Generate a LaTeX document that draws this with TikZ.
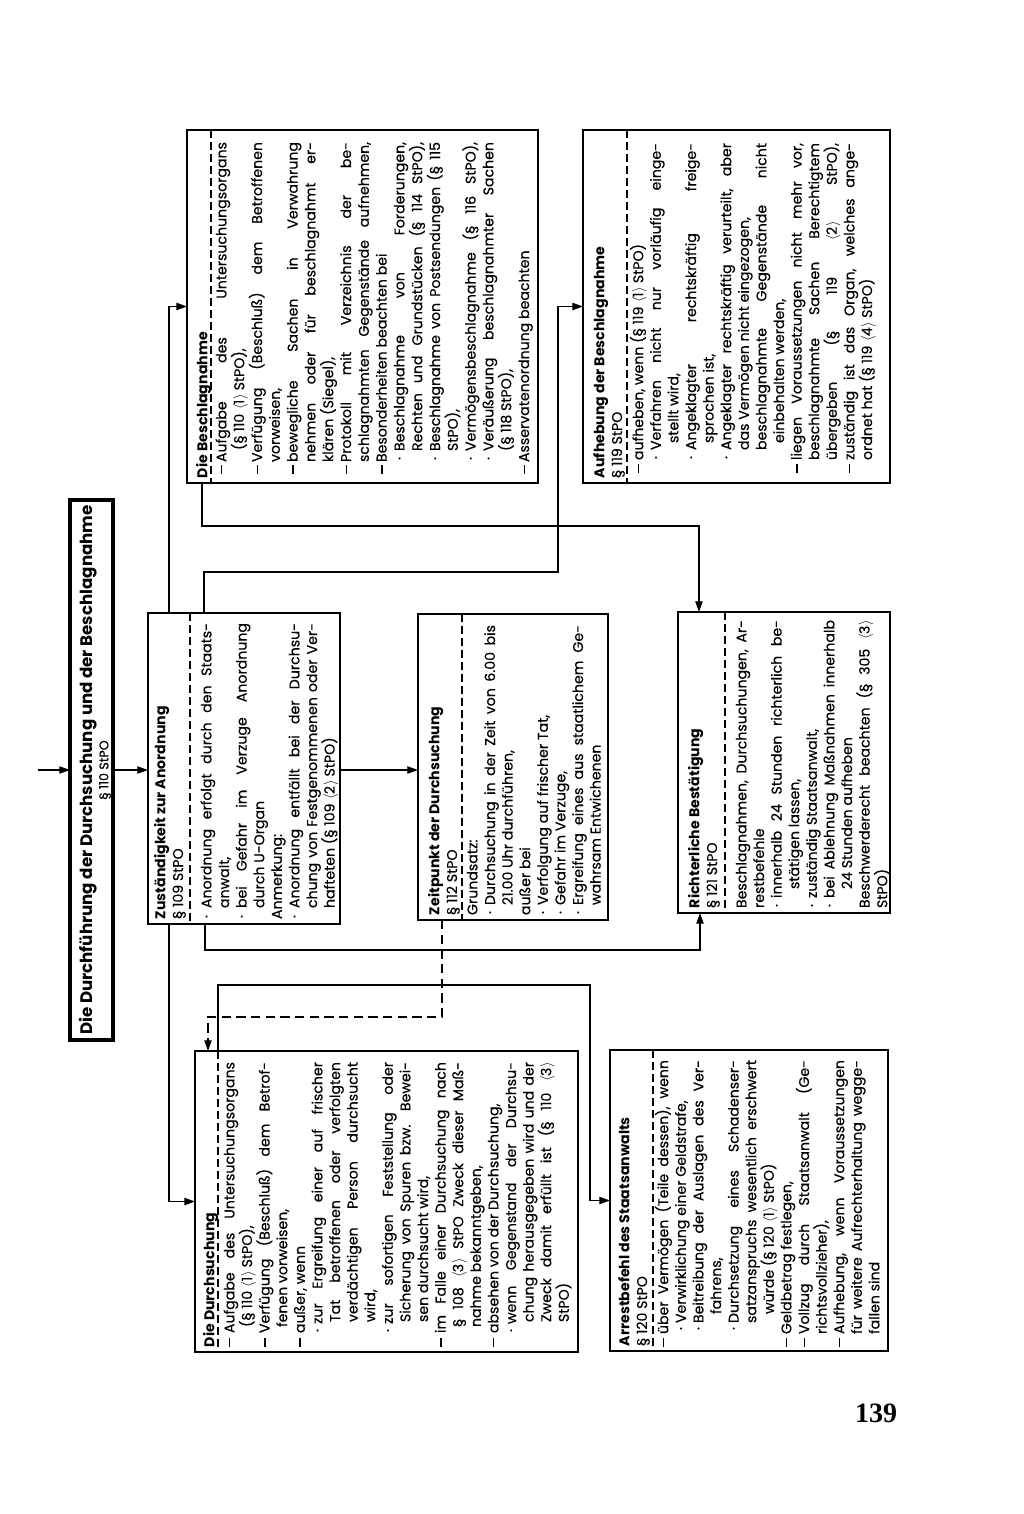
\documentclass[tikz,border=0pt]{standalone}
\usepackage{fontspec}
\setmainfont{Poppins}[UprightFeatures={FakeBold=0.35}]
\newfontfamily\pagefont{Liberation Serif}
\usetikzlibrary{arrows.meta}
\newdimen\pxu \pxu=0.75pt
\newcommand\stx{\vrule width0pt height 9.3pt depth 3.9pt}
\newcommand\Dsh{\rule[3pt]{6.5pt}{1pt}}
\newcommand\Dotm{·}
\newcommand\ab[1]{$\langle$#1$\rangle$}
\newcommand\Lx[5]{\hbox to\hsize{\stx\hbox to #3\pxu{\hskip #1\pxu\relax #2\hss}\makebox[\dimexpr\hsize-#3\pxu\relax][#4]{#5}}}
\newcommand\LD[2]{\Lx{\Dpos}{\Dsh}{\Tone}{#1}{#2}}
\newcommand\LB[2]{\Lx{\Bpos}{\Dotm}{\Ttwo}{#1}{#2}}
\newcommand\LC[3]{\Lx{0}{}{#1}{#2}{#3}}
\newcommand\Body[3][13.2pt]{\vbox{\hsize=#2\pxu\relax\fontsize{10.6}{13.2}\selectfont\baselineskip=#1\relax\lineskip=0pt\lineskiplimit=-20pt #3}}
\newcommand\Bx[6][]{\node[box,#1,minimum width={(#4-#2)*0.75pt},minimum height={(#5-#3)*0.75pt}] (#6) at ({(#2+#4)/2},{(#3+#5)/2}) {};}
\begin{document}
\begin{tikzpicture}[x=0.75pt,y=-0.75pt,
  box/.style={draw,line width=1.4pt,inner sep=0pt,outer sep=0pt},
  tbox/.style={line width=2.6pt},
  sepl/.style={line width=0.8pt,dash pattern=on 6pt off 3pt},
  conn/.style={line width=0.9pt},
  arr/.style={conn,-{Triangle[length=8pt,width=5.5pt]}},
  dconn/.style={arr,dash pattern=on 7pt off 4pt},
  txt/.style={rotate=90,anchor=north west,inner sep=0pt,outer sep=0pt}]
\fill[white] (0,0) rectangle (1024,1514);
\useasboundingbox (0,0) rectangle (1024,1514);

% boxes
\Bx[tbox]{70}{500}{113}{1040}{title}
\Bx{148}{613}{340}{924}{zust}
\Bx{418}{614}{608}{920}{zeit}
\Bx{678}{612}{890}{913}{richt}
\Bx{195}{1051}{578}{1352}{durch}
\Bx{610}{1050}{888}{1351}{arrest}
\Bx{187}{130}{538}{483}{beschl}
\Bx{583}{130}{890}{483}{aufheb}

% separators
\draw[sepl] ([xshift=31.5pt]zust.north west) -- ([xshift=31.5pt]zust.south west);
\draw[sepl] ([xshift=33pt]zeit.north west) -- ([xshift=33pt]zeit.south west);
\draw[sepl] ([xshift=35.25pt]richt.north west) -- ([xshift=35.25pt]richt.south west);
\draw[sepl] ([xshift=17.25pt]durch.north west) -- ([xshift=17.25pt]durch.south west);
\draw[sepl] ([xshift=32.25pt]arrest.north west) -- ([xshift=32.25pt]arrest.south west);
\draw[sepl] ([xshift=18pt]beschl.north west) -- ([xshift=18pt]beschl.south west);
\draw[sepl] ([xshift=33pt]aufheb.north west) -- ([xshift=33pt]aufheb.south west);

% title
\node[rotate=90,inner sep=0pt,font=\fontsize{12.5}{15}\selectfont\bfseries] (titleA) at (88,770) {Die Durchführung der Durchsuchung und der Beschlagnahme};
\node[rotate=90,inner sep=0pt,font=\fontsize{9.5}{11}\selectfont] (titleB) at (105,770) {§ 110 StPO};

% Zuständigkeit
\node[txt] (zustH) at (153,924) {\Body{301}{\LC{5}{l}{\bfseries Zuständigkeit zur Anordnung}\LC{5}{l}{§ 109 StPO}}};
\node[txt] (zustT) at (199,924) {\Body{301}{\def\Bpos{6}\def\Ttwo{16}%
\LB{s}{Anordnung erfolgt durch den Staats-}
\LC{16}{l}{anwalt,}
\LB{s}{bei Gefahr im Verzuge Anordnung}
\LC{16}{l}{durch U-Organ}
\LC{5}{l}{Anmerkung:}
\LB{s}{Anordnung entfällt bei der Durchsu-}
\LC{16}{s}{chung von Festgenommenen oder Ver-}
\LC{16}{l}{hafteten (§ 109 \ab{2} StPO)}}};

% Zeitpunkt
\node[txt] (zeitH) at (427,920) {\Body{295}{\LC{5}{l}{\bfseries Zeitpunkt der Durchsuchung}\LC{5}{l}{§ 112 StPO}}};
\node[txt] (zeitT) at (465,920) {\Body{295}{\def\Bpos{6}\def\Ttwo{15}%
\LC{5}{l}{Grundsatz:}
\LB{s}{Durchsuchung in der Zeit von 6.00 bis}
\LC{15}{l}{21.00 Uhr durchführen,}
\LC{5}{l}{außer bei}
\LB{l}{Verfolgung auf frischer Tat,}
\LB{l}{Gefahr im Verzuge,}
\LB{s}{Ergreifung eines aus staatlichem Ge-}
\LC{15}{l}{wahrsam Entwichenen}}};

% Richterliche Bestätigung
\node[txt] (richtH) at (687,913) {\Body{293}{\LC{5}{l}{\bfseries Richterliche Bestätigung}\LC{5}{l}{§ 121 StPO}}};
\node[txt] (richtT) at (734,913) {\Body{293}{\def\Bpos{6}\def\Ttwo{15}%
\LC{5}{s}{Beschlagnahmen, Durchsuchungen, Ar-}
\LC{5}{l}{restbefehle}
\LB{s}{innerhalb 24 Stunden richterlich be-}
\LC{24}{l}{stätigen lassen,}
\LB{l}{zuständig Staatsanwalt,}
\LB{s}{bei Ablehnung Maßnahmen innerhalb}
\LC{24}{l}{24 Stunden aufheben}
\LC{5}{s}{Beschwerderecht beachten (§ 305 \ab{3}}
\LC{5}{l}{StPO)}}};

% Die Durchsuchung
\node[txt] (durchH) at (202,1352) {\Body{290}{\LC{5}{l}{\bfseries Die Durchsuchung}}};
\node[txt] (durchT) at (222,1352) {\Body{290}{\def\Dpos{5}\def\Tone{19}\def\Bpos{20}\def\Ttwo{28}%
\LD{s}{Aufgabe des Untersuchungsorgans}
\LC{25}{l}{(§ 110 \ab{1} StPO),}
\LD{s}{Verfügung (Beschluß) dem Betrof-}
\LC{25}{l}{fenen vorweisen,}
\LD{l}{außer, wenn}
\LB{s}{zur Ergreifung einer auf frischer}
\LC{30}{s}{Tat betroffenen oder verfolgten}
\LC{30}{s}{verdächtigen Person durchsucht}
\LC{30}{l}{wird,}
\LB{s}{zur sofortigen Feststellung oder}
\LC{30}{s}{Sicherung von Spuren bzw. Bewei-}
\LC{30}{l}{sen durchsucht wird,}
\LD{s}{im Falle einer Durchsuchung nach}
\LC{25}{s}{§ 108 \ab{3} StPO Zweck dieser Maß-}
\LC{25}{l}{nahme bekanntgeben,}
\LD{l}{absehen von der Durchsuchung,}
\LB{s}{wenn Gegenstand der Durchsu-}
\LC{30}{s}{chung herausgegeben wird und der}
\LC{30}{s}{Zweck damit erfüllt ist (§ 110 \ab{3}}
\LC{30}{l}{StPO)}}};

% Arrestbefehl
\node[txt] (arrestH) at (617,1351) {\Body{291}{\LC{5}{l}{\bfseries Arrestbefehl des Staatsanwalts}\LC{5}{l}{§ 120 StPO}}};
\node[txt] (arrestT) at (655,1351) {\Body{291}{\def\Dpos{4}\def\Tone{17}\def\Bpos{21}\def\Ttwo{28}%
\LD{s}{über Vermögen (Teile dessen), wenn}
\LB{l}{Verwirklichung einer Geldstrafe,}
\LB{s}{Beitreibung der Auslagen des Ver-}
\LC{37}{l}{fahrens,}
\LB{s}{Durchsetzung eines Schadenser-}
\LC{28}{s}{satzanspruchs wesentlich erschwert}
\LC{37}{l}{würde (§ 120 \ab{1} StPO)}
\LD{l}{Geldbetrag festlegen,}
\LD{s}{Vollzug durch Staatsanwalt (Ge-}
\LC{17}{l}{richtsvollzieher),}
\LD{s}{Aufhebung, wenn Voraussetzungen}
\LC{17}{s}{für weitere Aufrechterhaltung wegge-}
\LC{17}{l}{fallen sind}}};

% Die Beschlagnahme
\node[txt] (beschlH) at (195,483) {\Body{341}{\LC{5}{l}{\bfseries Die Beschlagnahme}}};
\node[txt] (beschlT) at (214,483) {\Body[13.35pt]{341}{\def\Dpos{9}\def\Tone{21}\def\Bpos{23}\def\Ttwo{32}%
\LD{s}{Aufgabe des Untersuchungsorgans}
\LC{33}{l}{(§ 110 \ab{1} StPO),}
\LD{s}{Verfügung (Beschluß) dem Betroffenen}
\LC{21}{l}{vorweisen,}
\LD{s}{bewegliche Sachen in Verwahrung}
\LC{21}{s}{nehmen oder für beschlagnahmt er-}
\LC{21}{l}{klären (Siegel),}
\LD{s}{Protokoll mit Verzeichnis der be-}
\LC{21}{s}{schlagnahmten Gegenstände aufnehmen,}
\LD{l}{Besonderheiten beachten bei}
\LB{s}{Beschlagnahme von Forderungen,}
\LC{32}{s}{Rechten und Grundstücken (§ 114 StPO),}
\LB{s}{Beschlagnahme von Postsendungen (§ 115}
\LC{32}{l}{StPO),}
\LB{s}{Vermögensbeschlagnahme (§ 116 StPO),}
\LB{s}{Veräußerung beschlagnahmter Sachen}
\LC{32}{l}{(§ 118 StPO),}
\LD{l}{Asservatenordnung beachten}}};

% Aufhebung der Beschlagnahme
\node[txt] (aufhebH) at (592,483) {\Body{340}{\LC{5}{l}{\bfseries Aufhebung der Beschlagnahme}\LC{5}{l}{§ 119 StPO}}};
\node[txt] (aufhebT) at (630,483) {\Body{340}{\def\Dpos{10}\def\Tone{23}\def\Bpos{24}\def\Ttwo{33}%
\LD{l}{aufheben, wenn (§ 119 \ab{1} StPO)}
\LB{s}{Verfahren nicht nur vorläufig einge-}
\LC{40}{l}{stellt wird,}
\LB{s}{Angeklagter rechtskräftig freige-}
\LC{40}{l}{sprochen ist,}
\LB{s}{Angeklagter rechtskräftig verurteilt, aber}
\LC{33}{l}{das Vermögen nicht eingezogen,}
\LC{33}{s}{beschlagnahmte Gegenstände nicht}
\LC{40}{l}{einbehalten werden,}
\LD{s}{liegen Voraussetzungen nicht mehr vor,}
\LC{23}{s}{beschlagnahmte Sachen Berechtigtem}
\LC{23}{s}{übergeben (§ 119 \ab{2} StPO),}
\LD{s}{zuständig ist das Organ, welches ange-}
\LC{23}{l}{ordnet hat (§ 119 \ab{4} StPO)}}};

% page number
\node[inner sep=0pt,font=\pagefont\bfseries\fontsize{21}{24}\selectfont] (pnum) at (876,1413) {139};

% connectors
\coordinate (inC) at (38,770);
\coordinate (bendA) at (558,572);
\coordinate (bendB) at (699,526);
\coordinate (bendC) at (700,950);
\coordinate (bendD) at (208,1017);
\coordinate (bendE) at (590,985);
\draw[arr] (inC) -- (title.west);
\draw[arr] (title.east) -- (zust.west |- title.east);
\draw[arr] (zust.east |- title.east) -- (zeit.west |- title.east);
\draw[arr] ([xshift=15.75pt]zust.north west) |- (beschl.west);
\draw[arr] ([xshift=42pt]zust.north west) |- (bendA) |- (aufheb.west);
\draw[arr] ([xshift=11.25pt]beschl.south west) |- (bendB) -- (richt.north -| bendB);
\draw[arr] ([xshift=15.75pt]zust.south west) |- (durch.west);
\draw[arr] ([xshift=42.75pt]zust.south west) |- (bendC) -- (richt.south -| bendC);
\draw[dconn] ([xshift=18pt]zeit.south west) |- (bendD) -- (durch.north -| bendD);
\draw[arr] ([xshift=17.25pt]durch.north west) |- (bendE) |- (arrest.west);
\end{tikzpicture}
\end{document}
